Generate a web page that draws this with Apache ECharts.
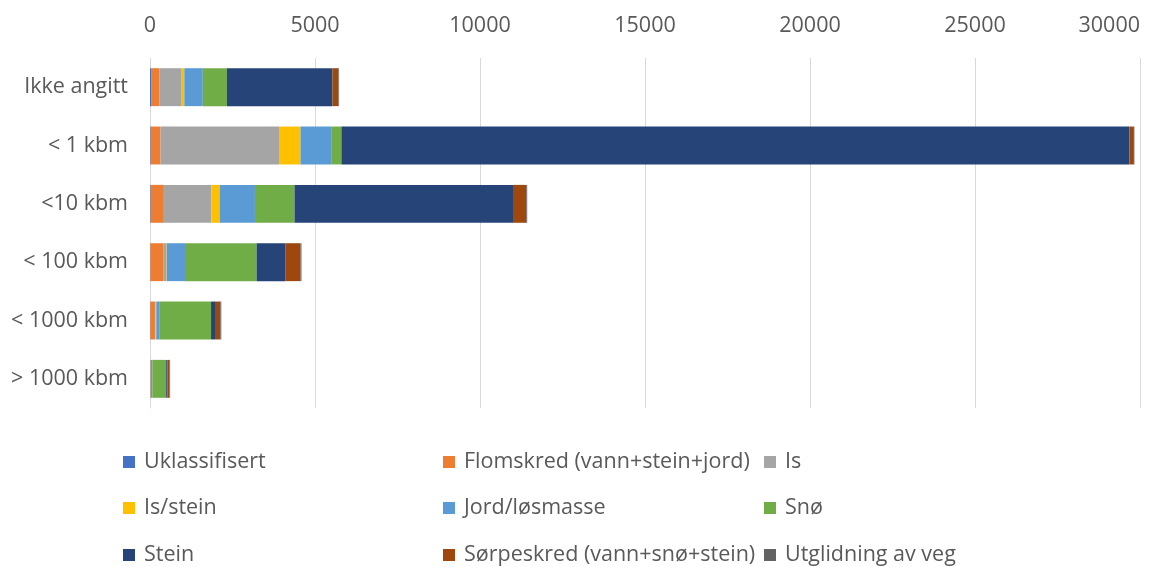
<!DOCTYPE html>
<html>
<head>
<meta charset="utf-8">
<script src="https://cdn.jsdelivr.net/npm/echarts@6/dist/echarts.min.js"></script>
<style>
  html, body { margin: 0; padding: 0; background: #fff; }
  #chart { width: 1173px; height: 567px; }
</style>
</head>
<body>
<div id="chart"></div>
<script>
// Size classes (top to bottom)
const categories = ['Ikke angitt', '< 1 kbm', '<10 kbm', '< 100 kbm', '< 1000 kbm', '> 1000 kbm'];
const xTicks = [0, 5000, 10000, 15000, 20000, 25000, 30000];

// Counts per avalanche type, one value per size class
const uklassifisert = [50, 20, 20, 10, 10, 10];
const flomskred     = [240, 300, 400, 390, 140, 10];
const isValues      = [670, 3590, 1440, 100, 10, 10];
const isStein       = [80, 650, 250, 10, 30, 0];
const jord          = [560, 930, 1070, 550, 90, 40];
const sno           = [730, 310, 1200, 2170, 1570, 420];
const stein         = [3200, 23880, 6620, 880, 120, 40];
const sorpeskred    = [180, 110, 400, 450, 160, 60];
const utglidning    = [20, 40, 30, 30, 30, 20];

const seriesDefs = [
  ['Uklassifisert', uklassifisert, '#4472C4'],
  ['Flomskred (vann+stein+jord)', flomskred, '#ED7D31'],
  ['Is', isValues, '#A5A5A5'],
  ['Is/stein', isStein, '#FFC000'],
  ['Jord/løsmasse', jord, '#5B9BD5'],
  ['Snø', sno, '#70AD47'],
  ['Stein', stein, '#264478'],
  ['Sørpeskred (vann+snø+stein)', sorpeskred, '#9E480E'],
  ['Utglidning av veg', utglidning, '#636363']
];

const textColor = '#595959';
const fontFamily = '"Open Sans", "Noto Sans", sans-serif';
const fontSize = 21.5;

// Legend laid out as a 3-column grid, filled row by row
const legendCols = [123, 443, 764];
const legendRows = [451, 497, 544];

const chart = echarts.init(document.getElementById('chart'));

const legends = seriesDefs.map(([name], i) => ({
  left: legendCols[i % 3],
  top: legendRows[Math.floor(i / 3)],
  padding: 0,
  itemWidth: 12,
  itemHeight: 12,
  icon: 'rect',
  data: [name],
  textStyle: {
    color: textColor, fontSize: fontSize, fontFamily: fontFamily,
    lineHeight: 22, padding: [0, 0, 0, 4]
  }
}));

chart.setOption({
  animation: false,
  backgroundColor: '#fff',
  grid: { left: 150, right: 33, top: 58, bottom: 159, containLabel: false },
  xAxis: {
    type: 'value',
    position: 'top',
    min: xTicks[0],
    max: xTicks[xTicks.length - 1],
    interval: xTicks[1] - xTicks[0],
    axisLine: { show: false },
    axisTick: { show: false },
    splitLine: { lineStyle: { color: '#D9D9D9', width: 1 } },
    axisLabel: {
      color: textColor, fontSize: fontSize, fontFamily: fontFamily, margin: 21,
      alignMaxLabel: 'right',
      formatter: v => String(v)
    }
  },
  yAxis: {
    type: 'category',
    inverse: true,
    data: categories,
    axisLine: { lineStyle: { color: '#D9D9D9', width: 1 } },
    axisTick: { show: false },
    axisLabel: { color: textColor, fontSize: fontSize, fontFamily: fontFamily, margin: 22 }
  },
  legend: legends,
  series: seriesDefs.map(([name, values, color]) => ({
    name: name,
    type: 'bar',
    stack: 'total',
    barCategoryGap: '35%',
    data: values,
    itemStyle: { color: color },
    emphasis: { disabled: true }
  }))
});
</script>
</body>
</html>
